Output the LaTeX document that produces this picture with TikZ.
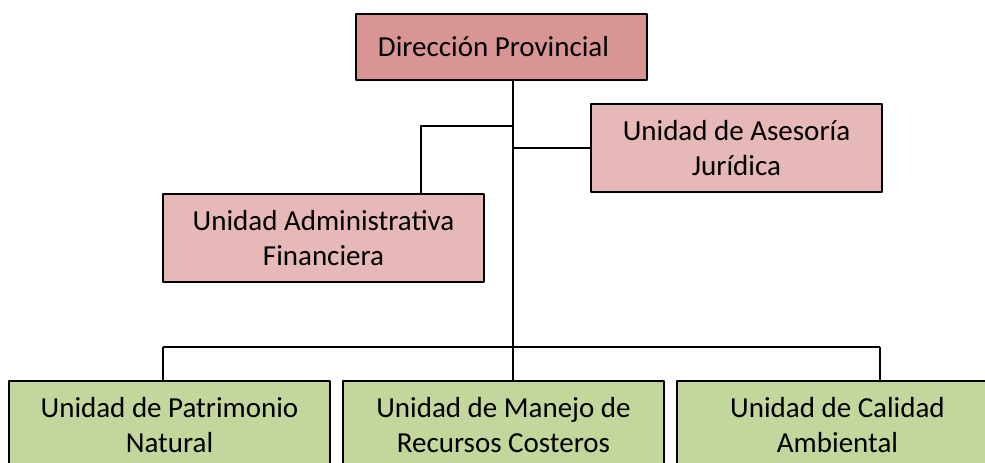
\documentclass[tikz,border=0pt]{standalone}
\usepackage{fontspec}
\setmainfont{Carlito}
\definecolor{rosaosc}{HTML}{D99594}
\definecolor{rosa}{HTML}{E6B8B7}
\definecolor{verde}{HTML}{C3D69B}
\tikzset{
  caja/.style={draw=black, line width=0.9pt, inner sep=0pt, align=center, minimum height=1.76cm},
  jefe/.style={caja, fill=rosaosc, minimum width=5.82cm, minimum height=1.32cm},
  asesor/.style={caja, fill=rosa, minimum width=5.82cm},
  apoyo/.style={caja, fill=rosa, minimum width=6.42cm},
  unidad/.style={caja, fill=verde, minimum width=6.42cm},
  linea/.style={line width=0.75pt}
}
\begin{document}
\begin{tikzpicture}[x=0.02cm, y=-0.02cm, line join=round, font=\fontsize{16.5}{19.5}\selectfont]
  \useasboundingbox (0,0) rectangle (985,463);
  \clip (0,0) rectangle (985,463);
  % nivel directivo
  \node[jefe] (dir) at (501.5,47) {\hspace*{-0.32cm}Dirección Provincial};
  \node[asesor] (jur) at (736.5,148) {Unidad de Asesoría\\Jurídica};
  \node[apoyo] (adm) at (323.5,238) {Unidad Administrativa\\Financiera};
  % nivel operativo
  \node[unidad] (pat) at (169.5,425) {Unidad de Patrimonio\\Natural};
  \node[unidad] (rec) at (503.5,425) {Unidad de Manejo de\\Recursos Costeros};
  \node[unidad] (cal) at (837.5,425) {Unidad de Calidad\\Ambiental};
  % conectores
  \coordinate (tronco) at (513,347);
  \coordinate (izq) at (163,347);
  \coordinate (der) at (880,347);
  \coordinate (codo) at (421,126);
  \draw[linea] (dir.south -| tronco) -- (tronco);
  \draw[linea] (tronco |- codo) -- (codo) -- (codo |- adm.north);
  \draw[linea] (tronco |- jur.west) -- (jur.west);
  \draw[linea] (izq) -- (der);
  \draw[linea] (izq) -- (izq |- pat.north);
  \draw[linea] (tronco) -- (tronco |- rec.north);
  \draw[linea] (der) -- (der |- cal.north);
\end{tikzpicture}
\end{document}
